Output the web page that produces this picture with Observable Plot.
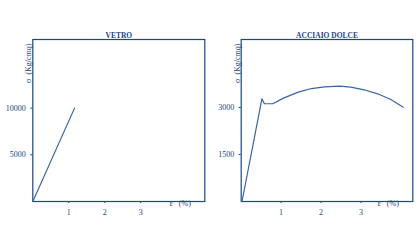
<!DOCTYPE html>
<html><head><meta charset="utf-8">
<script src="https://cdn.jsdelivr.net/npm/d3@7"></script>
<script src="https://cdn.jsdelivr.net/npm/@observablehq/plot@0.6"></script>
<style>
body{margin:0;background:#fff;}
#wrap{display:flex;width:420px;height:247px;}
</style></head><body><div id="wrap"></div>
<script>
const titles = ["VETRO", "ACCIAIO DOLCE"];
const yLabel = "σ  (Kg/cmq)";
const xLabel = "ε   (%)";
// VETRO
const vetroEps = [0, 1.16];
const vetroSigma = [0, 10000];
const vetroYTicks = [5000, 10000];
// ACCIAIO DOLCE
const acciaioEps = [0.02, 0.52, 0.58, 0.79, 1.06, 1.43, 1.76, 2.09, 2.46, 2.75, 3.08, 3.42, 3.75, 4.06];
const acciaioSigma = [0, 3280, 3120, 3120, 3300, 3490, 3605, 3660, 3680, 3648, 3565, 3437, 3255, 3010];
const acciaioYTicks = [1500, 3000];
const xTicks = [1, 2, 3];

const ink = "#1d4580", curve = "#3566a8";
const font = "'Liberation Serif', 'DejaVu Serif', serif";

function panel(title, eps, sig, yTicks, xDom, yDom, mL, mR) {
  const data = eps.map((e, i) => ({e, s: sig[i]}));
  return Plot.plot({
    width: 210, height: 247,
    marginLeft: mL, marginRight: mR, marginTop: 39, marginBottom: 46,
    style: {fontFamily: font, fontSize: "8px", color: ink, background: "white"},
    x: {domain: xDom}, y: {domain: yDom},
    marks: [
      Plot.frame({stroke: ink, strokeWidth: 1.2}),
      Plot.axisX(xTicks, {tickSize: 2, tickPadding: 6, label: null, stroke: ink, fill: ink, fontFamily: font, tickFormat: d => String(d)}),
      Plot.axisY(yTicks, {tickSize: 2, tickPadding: 5, label: null, stroke: ink, fill: ink, fontFamily: font, tickFormat: d => String(d)}),
      Plot.line(data, {x: "e", y: "s", stroke: curve, strokeWidth: 1.2}),
      Plot.text([title], {frameAnchor: "top", lineAnchor: "bottom", dy: -2, fill: ink, fontSize: 7.5, fontWeight: "bold", fontFamily: font}),
      Plot.text([yLabel], {frameAnchor: "top-left", lineAnchor: "middle", rotate: -90, textAnchor: "end", dx: -4, dy: 4, fill: ink, fontSize: 8, fontFamily: font}),
      Plot.text([xLabel], {frameAnchor: "bottom-right", textAnchor: "end", dx: -14, dy: 4, fill: ink, fontSize: 8, fontFamily: font})
    ]
  });
}
const wrap = document.getElementById("wrap");
wrap.append(panel(titles[0], vetroEps, vetroSigma, vetroYTicks, [0, 4.78], [0, 17350], 32.3, 5.7));
wrap.append(panel(titles[1], acciaioEps, acciaioSigma, acciaioYTicks, [0, 4.3], [0, 5170], 30.7, 7.7));
</script></body></html>
